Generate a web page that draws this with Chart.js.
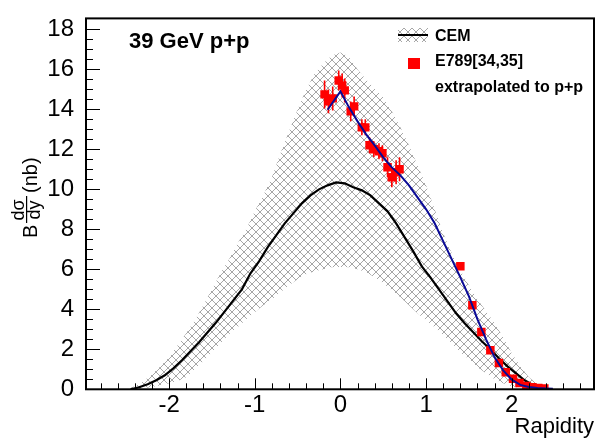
<!DOCTYPE html>
<html>
<head>
<meta charset="utf-8">
<script src="https://cdn.jsdelivr.net/npm/chart.js@4.4.1/dist/chart.umd.min.js"></script>
<style>
  html, body { margin: 0; padding: 0; background: #fff; }
</style>
</head>
<body>
<canvas id="c" width="600" height="440"></canvas>
<script>
// CEM uncertainty band (upper / lower edge), same x grid
const bandX = [-2.5, -2.4, -2.3, -2.2, -2.1, -2.0, -1.9, -1.8, -1.7, -1.6, -1.5, -1.4, -1.3, -1.2, -1.1, -1.0,
  -0.9, -0.8, -0.7, -0.6, -0.5, -0.4, -0.3, -0.2, -0.1, 0.0, 0.1, 0.2, 0.3, 0.4, 0.5, 0.6, 0.7, 0.8, 0.9, 1.0,
  1.1, 1.2, 1.3, 1.4, 1.5, 1.6, 1.7, 1.8, 1.9, 2.0, 2.1, 2.2, 2.3, 2.4, 2.5];
const bandUpper = [0, 0.15, 0.4, 0.75, 1.15, 1.6, 2.2, 2.8, 3.45, 4.2, 5.0, 5.8, 6.5, 7.3, 8.0, 8.9,
  9.7, 10.6, 11.8, 12.9, 14.0, 15.0, 15.8, 16.3, 16.7, 16.85, 16.65, 16.0, 15.5, 15.05, 14.6, 13.9, 13.1, 12.2, 11.2, 10.2,
  9.0, 7.8, 6.8, 5.95, 5.2, 4.5, 3.9, 3.3, 2.6, 1.8, 1.15, 0.6, 0.27, 0.08, 0];
const bandLower = [0, 0, 0.05, 0.12, 0.2, 0.3, 0.42, 0.6, 1.0, 1.4, 1.85, 2.3, 2.75, 3.1, 3.5, 3.85,
  4.2, 4.5, 4.85, 5.2, 5.5, 5.75, 5.9, 6.0, 6.1, 6.12, 6.1, 6.0, 5.85, 5.6, 5.3, 4.95, 4.6, 4.2, 3.8, 3.45,
  3.1, 2.7, 2.3, 1.85, 1.5, 1.1, 0.8, 0.5, 0.3, 0.15, 0.06, 0.02, 0, 0, 0];

// CEM central curve
const cemX = [-2.45, -2.35, -2.25, -2.15, -2.05, -1.95, -1.85, -1.75, -1.65, -1.55, -1.45, -1.35, -1.25, -1.15,
  -1.05, -0.95, -0.85, -0.75, -0.65, -0.55, -0.45, -0.35, -0.25, -0.15, -0.05, 0.05, 0.15, 0.25, 0.35, 0.45,
  0.55, 0.65, 0.75, 0.85, 0.95, 1.05, 1.15, 1.25, 1.35, 1.45, 1.55, 1.65, 1.75, 1.85, 1.95, 2.05, 2.15, 2.25, 2.35, 2.45];
const cemY = [0.0, 0.1, 0.25, 0.45, 0.7, 1.05, 1.45, 1.9, 2.35, 2.85, 3.35, 3.9, 4.45, 5.0,
  5.8, 6.4, 7.1, 7.7, 8.3, 8.8, 9.3, 9.7, 10.0, 10.2, 10.35, 10.3, 10.1, 9.95, 9.7, 9.3,
  8.9, 8.3, 7.6, 6.9, 6.15, 5.6, 5.0, 4.4, 3.8, 3.3, 2.85, 2.4, 2.0, 1.55, 1.15, 0.8, 0.45, 0.2, 0.07, 0.0];

// blue curve through the data
const fitX = [-0.15, 0.0, 0.1, 0.2, 0.3, 0.4, 0.5, 0.6, 0.7, 0.8, 0.9, 1.0, 1.1, 1.2, 1.3, 1.4, 1.5, 1.6, 1.7,
  1.8, 1.9, 2.0, 2.1, 2.2, 2.3, 2.4, 2.48];
const fitY = [13.98, 14.9, 14.1, 13.4, 12.75, 12.2, 11.6, 11.1, 10.7, 10.2, 9.6, 9.0, 8.3, 7.4, 6.5, 5.6, 4.65, 3.5, 2.5,
  1.6, 0.95, 0.48, 0.22, 0.12, 0.06, 0.04, 0.03];

// E789 data extrapolated to p+p
const e789X = [-0.185, -0.14, -0.09, -0.02, 0.02, 0.05, 0.12, 0.16, 0.25, 0.29, 0.34, 0.39, 0.45, 0.49, 0.55, 0.6, 0.65, 0.69,
  1.40, 1.54, 1.645, 1.75, 1.85, 1.93, 2.015, 2.09, 2.17, 2.24, 2.31, 2.38];
const e789Y = [14.75, 14.4, 14.55, 15.45, 15.2, 14.95, 13.9, 14.15, 13.1, 13.1, 12.2, 12.0, 11.9, 11.8, 11.1, 10.6, 10.85, 11.0,
  6.15, 4.2, 2.86, 1.95, 1.31, 0.85, 0.53, 0.32, 0.17, 0.1, 0.06, 0.04];
const e789Err = [0.7, 0.6, 0.6, 0.5, 0.6, 0.6, 0.5, 0.5, 0.4, 0.4, 0.4, 0.4, 0.4, 0.4, 0.5, 0.5, 0.6, 0.6,
  0, 0, 0, 0, 0, 0, 0, 0, 0, 0, 0, 0];

const xMin = -2.97, xMax = 2.96;
const yMin = 0, yMax = 18.55;

const FONT = '"Liberation Sans", Arial, Helvetica, sans-serif';

// crisp 1px cross-hatch, 8px pitch
function makeHatch(ctx) {
  const n = 8;
  const tile = document.createElement('canvas');
  tile.width = n;
  tile.height = n;
  const g = tile.getContext('2d');
  g.fillStyle = '#a6a6a6';
  for (let i = 0; i < n; i++) {
    g.fillRect(i, i, 1, 1);
    g.fillRect(n - 1 - i, i, 1, 1);
  }
  return ctx.createPattern(tile, 'repeat');
}

function pts(xs, ys) {
  return xs.map((x, i) => ({ x: x, y: ys[i] }));
}

function errorSegments() {
  const out = [];
  e789X.forEach((x, i) => {
    if (!e789Err[i]) return;
    out.push({ x: x, y: e789Y[i] - e789Err[i] });
    out.push({ x: x, y: e789Y[i] + e789Err[i] });
    out.push({ x: x, y: null });
  });
  return out;
}

// frame, inward ticks, titles, legend (ROOT look)
const rootDecor = {
  id: 'rootDecor',
  afterDraw(chart) {
    const ctx = chart.ctx;
    const a = chart.chartArea;
    const xs = chart.scales.x;
    const ys = chart.scales.y;
    ctx.save();
    ctx.strokeStyle = '#000';
    ctx.lineWidth = 1;
    ctx.beginPath();
    for (let k = -15; k <= 15; k++) {
      const v = k * 0.2;
      if (v < xMin || v > xMax) continue;
      const px = Math.round(xs.getPixelForValue(v)) + 0.5;
      const len = k % 5 === 0 ? 11 : 6;
      ctx.moveTo(px, a.bottom);
      ctx.lineTo(px, a.bottom - len);
    }
    for (let k = 0; k <= 36; k++) {
      const v = k * 0.5;
      const py = Math.round(ys.getPixelForValue(v)) + 0.5;
      const len = k % 4 === 0 ? 14 : 7;
      ctx.moveTo(a.left, py);
      ctx.lineTo(a.left + len, py);
    }
    ctx.stroke();

    ctx.lineWidth = 2;
    ctx.strokeRect(a.left, a.top, a.right - a.left, a.bottom - a.top);

    // axis titles
    ctx.fillStyle = '#000';
    ctx.font = '22px ' + FONT;
    ctx.textAlign = 'right';
    ctx.textBaseline = 'alphabetic';
    ctx.fillText('Rapidity', a.right, 433);

    ctx.save();
    ctx.translate(37, 238);
    ctx.rotate(-Math.PI / 2);
    ctx.textAlign = 'left';
    ctx.font = '20px ' + FONT;
    ctx.fillText('B', 0, 0);
    ctx.font = '18px ' + FONT;
    ctx.textAlign = 'center';
    ctx.fillText('d\u03c3', 28, -13);
    ctx.fillText('dy', 28, 3);
    ctx.fillRect(15, -11, 27, 1.2);
    ctx.textAlign = 'left';
    ctx.font = '20px ' + FONT;
    ctx.fillText('(nb)', 45, 0);
    ctx.restore();

    // label
    ctx.textAlign = 'left';
    ctx.font = 'bold 22px ' + FONT;
    ctx.fillText('39 GeV p+p', 129, 48);

    // legend
    ctx.fillStyle = chart.$hatch;
    ctx.fillRect(398, 28, 30, 14);
    ctx.strokeStyle = '#000';
    ctx.lineWidth = 2;
    ctx.beginPath();
    ctx.moveTo(398, 35);
    ctx.lineTo(428, 35);
    ctx.stroke();
    ctx.fillStyle = '#f00';
    ctx.fillRect(408, 58, 12, 11);
    ctx.fillStyle = '#000';
    ctx.font = 'bold 16px ' + FONT;
    ctx.fillText('CEM', 435, 41);
    ctx.fillText('E789[34,35]', 435, 66);
    ctx.fillText('extrapolated to p+p', 435, 92);
    ctx.restore();
  }
};

function renderChart() {
  const canvas = document.getElementById('c');
  const ctx = canvas.getContext('2d');
  const hatch = makeHatch(ctx);

  const chart = new Chart(canvas, {
    type: 'line',
    data: {
      datasets: [
        {
          label: 'band',
          data: pts(bandX, bandUpper),
          borderWidth: 0,
          pointRadius: 0,
          fill: '+1',
          backgroundColor: hatch,
          order: 5
        },
        {
          label: 'band low',
          data: pts(bandX, bandLower),
          borderWidth: 0,
          pointRadius: 0,
          fill: false,
          order: 6
        },
        {
          label: 'CEM',
          data: pts(cemX, cemY),
          borderColor: '#000',
          borderWidth: 2.2,
          pointRadius: 0,
          fill: false,
          order: 3
        },
        {
          label: 'err',
          data: errorSegments(),
          borderColor: '#f00',
          borderWidth: 1.6,
          pointRadius: 0,
          spanGaps: false,
          fill: false,
          order: 2
        },
        {
          label: 'E789',
          data: pts(e789X, e789Y),
          showLine: false,
          pointStyle: 'rect',
          pointRadius: 6,
          backgroundColor: '#f00',
          borderWidth: 0,
          order: 1
        },
        {
          label: 'fit',
          data: pts(fitX, fitY),
          borderColor: '#0a0a96',
          borderWidth: 2,
          pointRadius: 0,
          fill: false,
          order: 0
        }
      ]
    },
    options: {
      responsive: false,
      animation: false,
      devicePixelRatio: 1,
      layout: { padding: { top: 6, right: 6, left: 0, bottom: 0 } },
      elements: { line: { tension: 0 } },
      plugins: {
        legend: { display: false },
        tooltip: { enabled: false }
      },
      scales: {
        x: {
          type: 'linear',
          min: xMin,
          max: xMax,
          grid: { display: false },
          border: { display: false },
          ticks: {
            stepSize: 1,
            includeBounds: false,
            color: '#000',
            font: { family: FONT, size: 24 },
            padding: -6,
            maxRotation: 0
          },
          afterFit(scale) { scale.height = 50.7; }
        },
        y: {
          type: 'linear',
          min: yMin,
          max: yMax,
          grid: { display: false },
          border: { display: false },
          ticks: {
            stepSize: 2,
            includeBounds: false,
            color: '#000',
            font: { family: FONT, size: 24 },
            padding: 4
          },
          afterFit(scale) { scale.width = 86; }
        }
      }
    },
    plugins: [rootDecor]
  });
  chart.$hatch = hatch;
  chart.draw();
}

renderChart();
</script>
</body>
</html>
